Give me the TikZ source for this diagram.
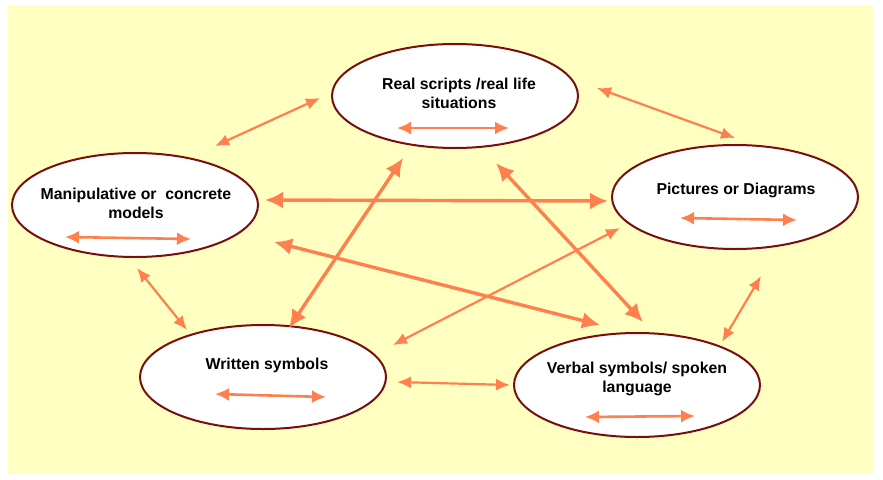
\documentclass[tikz,border=0pt]{standalone}
\usepackage{fontspec}
\setmainfont{Liberation Sans}
\usetikzlibrary{shapes.geometric,arrows.meta}
\definecolor{arrowcol}{RGB}{255,128,78}
\definecolor{rimcol}{RGB}{122,14,14}
\definecolor{bgcol}{RGB}{255,255,194}

\begin{document}
\begin{tikzpicture}[x=1pt, y=-1pt,
  blob/.style={ellipse, draw=rimcol, line width=2pt, fill=white, minimum width=246pt, minimum height=104pt, inner sep=0pt},
  txt/.style={align=center, font=\bfseries\fontsize{15.8}{19}\selectfont},
  bigarrow/.style={draw=arrowcol, line width=3.4pt, {Latex[length=18pt,width=17pt]}-{Latex[length=18pt,width=17pt]}},
  thinarrow/.style={draw=arrowcol, line width=2.2pt, {Latex[length=14pt,width=12pt]}-{Latex[length=14pt,width=12pt]}},
  inarrow/.style={draw=arrowcol, line width=2.6pt, {Latex[length=14pt,width=13pt]}-{Latex[length=14pt,width=13pt]}}]
  \useasboundingbox (0,0) rectangle (883,479);
  \fill[bgcol] (8,5) rectangle (873,474);

  % ellipses
  \node[blob] (real) at (455,96){};
  \node[blob] (manip) at (135,205){};
  \node[blob] (pict) at (735,197){};
  \node[blob] (writ) at (263,377){};
  \node[blob] (verb) at (637,385){};

  % texts
  \node[txt] (realtxt) at (459,93){Real scripts /real life\\situations};
  \node[txt] (maniptxt) at (136,203){Manipulative or\ \ concrete\\models};
  \node[txt] (picttxt) at (736,190){Pictures or Diagrams};
  \node[txt] (writtxt) at (267,365){Written symbols};
  \node[txt] (verbtxt) at (637,379){Verbal symbols/ spoken\\language};

  % arrows inside the ellipses
  \coordinate (reala) at (397,128);
  \coordinate (realb) at (509,128);
  \coordinate (manipa) at (65,237);
  \coordinate (manipb) at (191,239);
  \coordinate (picta) at (680,218);
  \coordinate (pictb) at (797,220);
  \coordinate (writa) at (215,394);
  \coordinate (writb) at (326,397);
  \coordinate (verba) at (585,417);
  \coordinate (verbb) at (695,416);
  \draw[inarrow] (reala) -- (realb);
  \draw[inarrow] (manipa) -- (manipb);
  \draw[inarrow] (picta) -- (pictb);
  \draw[inarrow] (writa) -- (writb);
  \draw[inarrow] (verba) -- (verbb);

  % arrows between the ellipses
  \coordinate (mr1) at (215,146);
  \coordinate (mr2) at (320,98);
  \coordinate (rp1) at (597,88);
  \coordinate (rp2) at (735,138);
  \coordinate (mw1) at (137,268);
  \coordinate (mw2) at (187,330);
  \coordinate (wv1) at (397,382);
  \coordinate (wv2) at (510,385);
  \coordinate (pv1) at (761,276);
  \coordinate (pv2) at (722,342);
  \coordinate (pw1) at (620,228);
  \coordinate (pw2) at (393,345);
  \coordinate (mp1) at (265,200);
  \coordinate (mp2) at (608,201);
  \coordinate (mv1) at (274,242);
  \coordinate (mv2) at (600,325);
  \coordinate (rw1) at (403,158);
  \coordinate (rw2) at (289,328);
  \coordinate (rv1) at (496,163);
  \coordinate (rv2) at (643,322);

  \draw[thinarrow] (mr1) -- (mr2);
  \draw[thinarrow] (rp1) -- (rp2);
  \draw[thinarrow] (mw1) -- (mw2);
  \draw[thinarrow] (wv1) -- (wv2);
  \draw[thinarrow] (pv1) -- (pv2);
  \draw[thinarrow] (pw1) -- (pw2);
  \draw[bigarrow] (mp1) -- (mp2);
  \draw[bigarrow] (mv1) -- (mv2);
  \draw[bigarrow] (rw1) -- (rw2);
  \draw[bigarrow] (rv1) -- (rv2);
\end{tikzpicture}
\end{document}
